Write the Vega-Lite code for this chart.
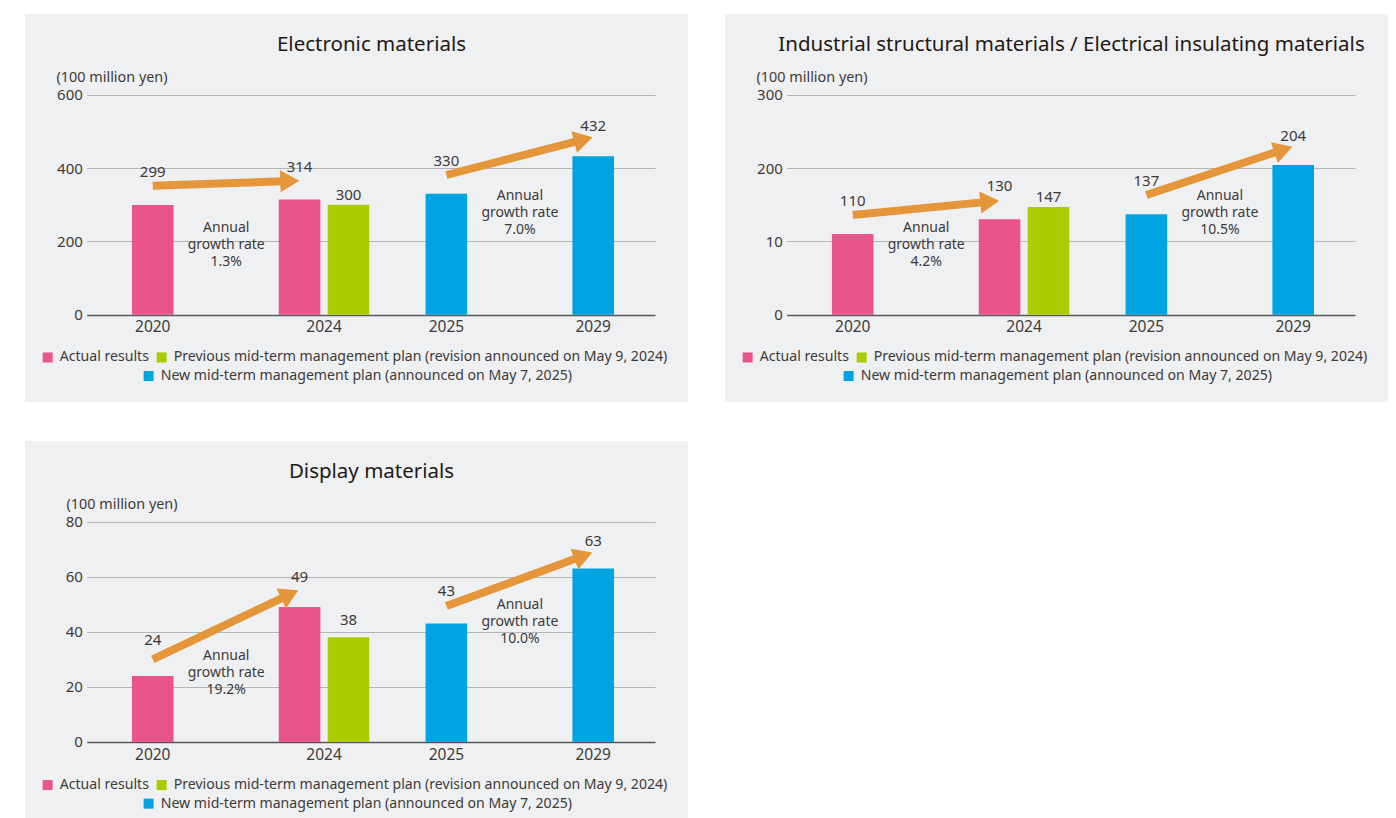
{
  "$schema": "https://vega.github.io/schema/vega-lite/v6.json",
  "background": "white",
  "padding": {"left": 25, "top": 14, "right": 0, "bottom": 0},
  "bounds": "flush",
  "columns": 2,
  "spacing": {"row": 39, "column": 37},
  "datasets": {
    "bars": [
      {"panel": "elec", "year": "2020", "bar": "2020", "series": "Actual results", "value": 299},
      {"panel": "elec", "year": "2024", "bar": "2024 actual", "series": "Actual results", "value": 314},
      {"panel": "elec", "year": "2024", "bar": "2024 previous", "series": "Previous mid-term management plan (revision announced on May 9, 2024)", "value": 300},
      {"panel": "elec", "year": "2025", "bar": "2025", "series": "New mid-term management plan (announced on May 7, 2025)", "value": 330},
      {"panel": "elec", "year": "2029", "bar": "2029", "series": "New mid-term management plan (announced on May 7, 2025)", "value": 432},
      {"panel": "ind", "year": "2020", "bar": "2020", "series": "Actual results", "value": 110},
      {"panel": "ind", "year": "2024", "bar": "2024 actual", "series": "Actual results", "value": 130},
      {"panel": "ind", "year": "2024", "bar": "2024 previous", "series": "Previous mid-term management plan (revision announced on May 9, 2024)", "value": 147},
      {"panel": "ind", "year": "2025", "bar": "2025", "series": "New mid-term management plan (announced on May 7, 2025)", "value": 137},
      {"panel": "ind", "year": "2029", "bar": "2029", "series": "New mid-term management plan (announced on May 7, 2025)", "value": 204},
      {"panel": "disp", "year": "2020", "bar": "2020", "series": "Actual results", "value": 24},
      {"panel": "disp", "year": "2024", "bar": "2024 actual", "series": "Actual results", "value": 49},
      {"panel": "disp", "year": "2024", "bar": "2024 previous", "series": "Previous mid-term management plan (revision announced on May 9, 2024)", "value": 38},
      {"panel": "disp", "year": "2025", "bar": "2025", "series": "New mid-term management plan (announced on May 7, 2025)", "value": 43},
      {"panel": "disp", "year": "2029", "bar": "2029", "series": "New mid-term management plan (announced on May 7, 2025)", "value": 63}
    ],
    "notes": [
      {"panel": "elec", "from": "2020", "to": "2024 actual", "start": 351.8, "end": 364.6, "labelAt": 190, "label": ["Annual", "growth rate", "1.3%"]},
      {"panel": "elec", "from": "2025", "to": "2029", "start": 381, "end": 477.5, "labelAt": 277.4, "label": ["Annual", "growth rate", "7.0%"]},
      {"panel": "ind", "from": "2020", "to": "2024 actual", "start": 136.0, "end": 154.2, "labelAt": 95, "label": ["Annual", "growth rate", "4.2%"]},
      {"panel": "ind", "from": "2025", "to": "2029", "start": 163.2, "end": 225.1, "labelAt": 138.7, "label": ["Annual", "growth rate", "10.5%"]},
      {"panel": "disp", "from": "2020", "to": "2024 actual", "start": 30.0, "end": 53.6, "labelAt": 25.1, "label": ["Annual", "growth rate", "19.2%"]},
      {"panel": "disp", "from": "2025", "to": "2029", "start": 49.4, "end": 67.6, "labelAt": 43.6, "label": ["Annual", "growth rate", "10.0%"]}
    ]
  },
  "resolve": {
    "scale": {"color": "independent", "fill": "independent", "x": "independent", "y": "independent"},
    "legend": {"color": "independent", "fill": "independent"}
  },
  "concat": [
    {
      "width": 663, "height": 388,
      "title": {"text": "Electronic materials", "anchor": "middle", "frame": "group", "dx": 15, "dy": 51, "baseline": "middle", "offset": 0, "fontSize": 20.5, "fontWeight": "normal", "color": "#231815"},
      "layer": [
        {
          "data": {"name": "bars"},
          "transform": [{"filter": "datum.panel == 'elec' && indexof(datum.series, 'New') != 0"}],
          "mark": {"type": "bar", "width": {"band": 0.85}},
          "encoding": {
            "x": {"field": "bar", "type": "nominal",
              "scale": {"domain": ["2020", "g1", "g2", "2024 actual", "2024 previous", "g3", "2025", "g4", "g5", "2029"], "range": [61.7, 630], "paddingInner": 0, "paddingOuter": 0.806, "align": 0.527},
              "axis": {"title": null, "orient": "bottom", "offset": -87.3, "labelExpr": "datum.value == '2024 actual' ? '2024' : (datum.value == '2020' || datum.value == '2025' || datum.value == '2029' ? datum.value : '')", "labelOffset": {"condition": {"test": "datum.value == '2024 actual'", "value": 24.5}, "value": 0}, "labelOverlap": false, "labelPadding": 5, "labelFontSize": 15.5, "labelColor": "#3e3a39", "labelAngle": 0, "grid": false, "domain": false, "ticks": false}},
            "y": {"field": "value", "type": "quantitative", "stack": null,
              "scale": {"domain": [-238.1, 820.1], "nice": false, "zero": false},
              "axis": {"orient": "left", "offset": -61.7, "values": [0, 200, 400, 600], "grid": true,
                "gridColor": {"condition": {"test": "datum.value === 0", "value": "#595757"}, "value": "#b5b5b6"},
                "gridWidth": {"condition": {"test": "datum.value === 0", "value": 1.6}, "value": 1},
                "labelPadding": 4.4, "labelFontSize": 15, "labelColor": "#3e3a39", "domain": false, "ticks": false,
                "title": "(100 million yen)", "titleAngle": 0, "titleAlign": "left", "titleBaseline": "middle", "titleX": -30.7, "titleY": 63, "titleFontSize": 14.4, "titleFontWeight": "normal", "titleColor": "#3e3a39"}},
            "color": {"field": "series", "type": "nominal",
              "scale": {"domain": ["Actual results", "Previous mid-term management plan (revision announced on May 9, 2024)"], "range": ["#e9548d", "#aacc00"]},
              "legend": {"orient": "none", "legendX": 15.6, "legendY": 336, "direction": "horizontal", "title": null, "symbolType": "square", "symbolSize": 100, "symbolStrokeWidth": 0, "labelFontSize": 14.1, "labelColor": "#3e3a39", "columnPadding": 5, "labelOffset": 5, "padding": 0, "labelLimit": 700}}
          }
        },
        {
          "data": {"name": "bars"},
          "transform": [{"filter": "datum.panel == 'elec' && indexof(datum.series, 'New') == 0"}],
          "mark": {"type": "bar", "width": {"band": 0.85}},
          "encoding": {
            "x": {"field": "bar", "type": "nominal"},
            "y": {"field": "value", "type": "quantitative", "stack": null},
            "fill": {"field": "series", "type": "nominal",
              "scale": {"domain": ["New mid-term management plan (announced on May 7, 2025)"], "range": ["#00a4e0"]},
              "legend": {"orient": "none", "legendX": 116.6, "legendY": 355, "direction": "horizontal", "title": null, "symbolType": "square", "symbolSize": 100, "symbolStrokeWidth": 0, "labelFontSize": 14.1, "labelColor": "#3e3a39", "labelOffset": 5, "padding": 0, "labelLimit": 700}}
          }
        },
        {
          "data": {"name": "notes"},
          "transform": [{"filter": "datum.panel == 'elec'"}],
          "mark": {"type": "rule", "color": "#e5963a", "strokeWidth": 8, "strokeCap": "butt"},
          "encoding": {
            "x": {"field": "from", "type": "nominal"},
            "x2": {"field": "to", "bandPosition": 0.3},
            "y": {"field": "start", "type": "quantitative"},
            "y2": {"field": "end"}
          }
        },
        {
          "data": {"name": "notes"},
          "transform": [{"filter": "datum.panel == 'elec' && datum.from == '2020'"}],
          "mark": {"type": "point", "shape": "M-0.864,-1L0.864,0L-0.864,1Z", "size": 484, "filled": true, "color": "#e5963a", "opacity": 1, "strokeWidth": 0, "angle": 358},
          "encoding": {
            "x": {"field": "to", "type": "nominal", "bandPosition": 0.3},
            "y": {"field": "end", "type": "quantitative"}
          }
        },
        {
          "data": {"name": "notes"},
          "transform": [{"filter": "datum.panel == 'elec' && datum.from == '2025'"}],
          "mark": {"type": "point", "shape": "M-0.864,-1L0.864,0L-0.864,1Z", "size": 484, "filled": true, "color": "#e5963a", "opacity": 1, "strokeWidth": 0, "angle": 345.5},
          "encoding": {
            "x": {"field": "to", "type": "nominal", "bandPosition": 0.3},
            "y": {"field": "end", "type": "quantitative"}
          }
        },
        {
          "data": {"name": "bars"},
          "transform": [{"filter": "datum.panel == 'elec' && indexof(datum.series, 'Previous') != 0 && datum.year != '2029'"}],
          "mark": {"type": "text", "dy": -33, "fontSize": 15, "color": "#3e3a39", "baseline": "middle"},
          "encoding": {
            "x": {"field": "bar", "type": "nominal"},
            "y": {"field": "value", "type": "quantitative"},
            "text": {"field": "value", "type": "quantitative"}
          }
        },
        {
          "data": {"name": "bars"},
          "transform": [{"filter": "datum.panel == 'elec' && datum.year == '2029'"}],
          "mark": {"type": "text", "dy": -29.9, "fontSize": 15, "color": "#3e3a39", "baseline": "middle"},
          "encoding": {
            "x": {"field": "bar", "type": "nominal"},
            "y": {"field": "value", "type": "quantitative"},
            "text": {"field": "value", "type": "quantitative"}
          }
        },
        {
          "data": {"name": "bars"},
          "transform": [{"filter": "datum.panel == 'elec' && indexof(datum.series, 'Previous') == 0"}],
          "mark": {"type": "text", "dy": -10, "fontSize": 15, "color": "#3e3a39", "baseline": "middle"},
          "encoding": {
            "x": {"field": "bar", "type": "nominal"},
            "y": {"field": "value", "type": "quantitative"},
            "text": {"field": "value", "type": "quantitative"}
          }
        },
        {
          "data": {"name": "notes"},
          "transform": [{"filter": "datum.panel == 'elec'"}],
          "mark": {"type": "text", "dx": 73.5, "dy": -16.7, "fontSize": 14, "lineHeight": 16.7, "color": "#3e3a39", "baseline": "middle", "align": "center"},
          "encoding": {
            "x": {"field": "from", "type": "nominal"},
            "y": {"field": "labelAt", "type": "quantitative"},
            "text": {"field": "label", "type": "nominal"}
          }
        }
      ]
    },
    {
      "width": 663, "height": 388,
      "title": {"text": "Industrial structural materials / Electrical insulating materials", "anchor": "middle", "frame": "group", "dx": 15, "dy": 51, "baseline": "middle", "offset": 0, "fontSize": 20.5, "fontWeight": "normal", "color": "#231815"},
      "layer": [
        {
          "data": {"name": "bars"},
          "transform": [{"filter": "datum.panel == 'ind' && indexof(datum.series, 'New') != 0"}],
          "mark": {"type": "bar", "width": {"band": 0.85}},
          "encoding": {
            "x": {"field": "bar", "type": "nominal",
              "scale": {"domain": ["2020", "g1", "g2", "2024 actual", "2024 previous", "g3", "2025", "g4", "g5", "2029"], "range": [61.7, 630], "paddingInner": 0, "paddingOuter": 0.806, "align": 0.527},
              "axis": {"title": null, "orient": "bottom", "offset": -87.3, "labelExpr": "datum.value == '2024 actual' ? '2024' : (datum.value == '2020' || datum.value == '2025' || datum.value == '2029' ? datum.value : '')", "labelOffset": {"condition": {"test": "datum.value == '2024 actual'", "value": 24.5}, "value": 0}, "labelOverlap": false, "labelPadding": 5, "labelFontSize": 15.5, "labelColor": "#3e3a39", "labelAngle": 0, "grid": false, "domain": false, "ticks": false}},
            "y": {"field": "value", "type": "quantitative", "stack": null,
              "scale": {"domain": [-119.0, 410.0], "nice": false, "zero": false},
              "axis": {"orient": "left", "offset": -61.7, "values": [0, 100, 200, 300], "labelExpr": "datum.value == 100 ? '10' : datum.label", "grid": true,
                "gridColor": {"condition": {"test": "datum.value === 0", "value": "#595757"}, "value": "#b5b5b6"},
                "gridWidth": {"condition": {"test": "datum.value === 0", "value": 1.6}, "value": 1},
                "labelPadding": 4.4, "labelFontSize": 15, "labelColor": "#3e3a39", "domain": false, "ticks": false,
                "title": "(100 million yen)", "titleAngle": 0, "titleAlign": "left", "titleBaseline": "middle", "titleX": -30.7, "titleY": 63, "titleFontSize": 14.4, "titleFontWeight": "normal", "titleColor": "#3e3a39"}},
            "color": {"field": "series", "type": "nominal",
              "scale": {"domain": ["Actual results", "Previous mid-term management plan (revision announced on May 9, 2024)"], "range": ["#e9548d", "#aacc00"]},
              "legend": {"orient": "none", "legendX": 15.6, "legendY": 336, "direction": "horizontal", "title": null, "symbolType": "square", "symbolSize": 100, "symbolStrokeWidth": 0, "labelFontSize": 14.1, "labelColor": "#3e3a39", "columnPadding": 5, "labelOffset": 5, "padding": 0, "labelLimit": 700}}
          }
        },
        {
          "data": {"name": "bars"},
          "transform": [{"filter": "datum.panel == 'ind' && indexof(datum.series, 'New') == 0"}],
          "mark": {"type": "bar", "width": {"band": 0.85}},
          "encoding": {
            "x": {"field": "bar", "type": "nominal"},
            "y": {"field": "value", "type": "quantitative", "stack": null},
            "fill": {"field": "series", "type": "nominal",
              "scale": {"domain": ["New mid-term management plan (announced on May 7, 2025)"], "range": ["#00a4e0"]},
              "legend": {"orient": "none", "legendX": 116.6, "legendY": 355, "direction": "horizontal", "title": null, "symbolType": "square", "symbolSize": 100, "symbolStrokeWidth": 0, "labelFontSize": 14.1, "labelColor": "#3e3a39", "labelOffset": 5, "padding": 0, "labelLimit": 700}}
          }
        },
        {
          "data": {"name": "notes"},
          "transform": [{"filter": "datum.panel == 'ind'"}],
          "mark": {"type": "rule", "color": "#e5963a", "strokeWidth": 8, "strokeCap": "butt"},
          "encoding": {
            "x": {"field": "from", "type": "nominal"},
            "x2": {"field": "to", "bandPosition": 0.3},
            "y": {"field": "start", "type": "quantitative"},
            "y2": {"field": "end"}
          }
        },
        {
          "data": {"name": "notes"},
          "transform": [{"filter": "datum.panel == 'ind' && datum.from == '2020'"}],
          "mark": {"type": "point", "shape": "M-0.864,-1L0.864,0L-0.864,1Z", "size": 484, "filled": true, "color": "#e5963a", "opacity": 1, "strokeWidth": 0, "angle": 354.4},
          "encoding": {
            "x": {"field": "to", "type": "nominal", "bandPosition": 0.3},
            "y": {"field": "end", "type": "quantitative"}
          }
        },
        {
          "data": {"name": "notes"},
          "transform": [{"filter": "datum.panel == 'ind' && datum.from == '2025'"}],
          "mark": {"type": "point", "shape": "M-0.864,-1L0.864,0L-0.864,1Z", "size": 484, "filled": true, "color": "#e5963a", "opacity": 1, "strokeWidth": 0, "angle": 341.7},
          "encoding": {
            "x": {"field": "to", "type": "nominal", "bandPosition": 0.3},
            "y": {"field": "end", "type": "quantitative"}
          }
        },
        {
          "data": {"name": "bars"},
          "transform": [{"filter": "datum.panel == 'ind' && indexof(datum.series, 'Previous') != 0 && datum.year != '2029'"}],
          "mark": {"type": "text", "dy": -33, "fontSize": 15, "color": "#3e3a39", "baseline": "middle"},
          "encoding": {
            "x": {"field": "bar", "type": "nominal"},
            "y": {"field": "value", "type": "quantitative"},
            "text": {"field": "value", "type": "quantitative"}
          }
        },
        {
          "data": {"name": "bars"},
          "transform": [{"filter": "datum.panel == 'ind' && datum.year == '2029'"}],
          "mark": {"type": "text", "dy": -29.5, "fontSize": 15, "color": "#3e3a39", "baseline": "middle"},
          "encoding": {
            "x": {"field": "bar", "type": "nominal"},
            "y": {"field": "value", "type": "quantitative"},
            "text": {"field": "value", "type": "quantitative"}
          }
        },
        {
          "data": {"name": "bars"},
          "transform": [{"filter": "datum.panel == 'ind' && indexof(datum.series, 'Previous') == 0"}],
          "mark": {"type": "text", "dy": -9.6, "fontSize": 15, "color": "#3e3a39", "baseline": "middle"},
          "encoding": {
            "x": {"field": "bar", "type": "nominal"},
            "y": {"field": "value", "type": "quantitative"},
            "text": {"field": "value", "type": "quantitative"}
          }
        },
        {
          "data": {"name": "notes"},
          "transform": [{"filter": "datum.panel == 'ind'"}],
          "mark": {"type": "text", "dx": 73.5, "dy": -16.7, "fontSize": 14, "lineHeight": 16.7, "color": "#3e3a39", "baseline": "middle", "align": "center"},
          "encoding": {
            "x": {"field": "from", "type": "nominal"},
            "y": {"field": "labelAt", "type": "quantitative"},
            "text": {"field": "label", "type": "nominal"}
          }
        }
      ]
    },
    {
      "width": 663, "height": 377,
      "title": {"text": "Display materials", "anchor": "middle", "frame": "group", "dx": 15, "dy": 51, "baseline": "middle", "offset": 0, "fontSize": 20.5, "fontWeight": "normal", "color": "#231815"},
      "layer": [
        {
          "data": {"name": "bars"},
          "transform": [{"filter": "datum.panel == 'disp' && indexof(datum.series, 'New') != 0"}],
          "mark": {"type": "bar", "width": {"band": 0.85}},
          "encoding": {
            "x": {"field": "bar", "type": "nominal",
              "scale": {"domain": ["2020", "g1", "g2", "2024 actual", "2024 previous", "g3", "2025", "g4", "g5", "2029"], "range": [61.7, 630], "paddingInner": 0, "paddingOuter": 0.806, "align": 0.527},
              "axis": {"title": null, "orient": "bottom", "offset": -76, "labelExpr": "datum.value == '2024 actual' ? '2024' : (datum.value == '2020' || datum.value == '2025' || datum.value == '2029' ? datum.value : '')", "labelOffset": {"condition": {"test": "datum.value == '2024 actual'", "value": 24.5}, "value": 0}, "labelOverlap": false, "labelPadding": 5, "labelFontSize": 15.5, "labelColor": "#3e3a39", "labelAngle": 0, "grid": false, "domain": false, "ticks": false}},
            "y": {"field": "value", "type": "quantitative", "stack": null,
              "scale": {"domain": [-27.6, 109.3], "nice": false, "zero": false},
              "axis": {"orient": "left", "offset": -61.7, "values": [0, 20, 40, 60, 80], "grid": true,
                "gridColor": {"condition": {"test": "datum.value === 0", "value": "#595757"}, "value": "#b5b5b6"},
                "gridWidth": {"condition": {"test": "datum.value === 0", "value": 1.6}, "value": 1},
                "labelPadding": 4.4, "labelFontSize": 15, "labelColor": "#3e3a39", "domain": false, "ticks": false,
                "title": "(100 million yen)", "titleAngle": 0, "titleAlign": "left", "titleBaseline": "middle", "titleX": -20.7, "titleY": 63.3, "titleFontSize": 14.4, "titleFontWeight": "normal", "titleColor": "#3e3a39"}},
            "color": {"field": "series", "type": "nominal",
              "scale": {"domain": ["Actual results", "Previous mid-term management plan (revision announced on May 9, 2024)"], "range": ["#e9548d", "#aacc00"]},
              "legend": {"orient": "none", "legendX": 15.6, "legendY": 336.6, "direction": "horizontal", "title": null, "symbolType": "square", "symbolSize": 100, "symbolStrokeWidth": 0, "labelFontSize": 14.1, "labelColor": "#3e3a39", "columnPadding": 5, "labelOffset": 5, "padding": 0, "labelLimit": 700}}
          }
        },
        {
          "data": {"name": "bars"},
          "transform": [{"filter": "datum.panel == 'disp' && indexof(datum.series, 'New') == 0"}],
          "mark": {"type": "bar", "width": {"band": 0.85}},
          "encoding": {
            "x": {"field": "bar", "type": "nominal"},
            "y": {"field": "value", "type": "quantitative", "stack": null},
            "fill": {"field": "series", "type": "nominal",
              "scale": {"domain": ["New mid-term management plan (announced on May 7, 2025)"], "range": ["#00a4e0"]},
              "legend": {"orient": "none", "legendX": 116.6, "legendY": 355.6, "direction": "horizontal", "title": null, "symbolType": "square", "symbolSize": 100, "symbolStrokeWidth": 0, "labelFontSize": 14.1, "labelColor": "#3e3a39", "labelOffset": 5, "padding": 0, "labelLimit": 700}}
          }
        },
        {
          "data": {"name": "notes"},
          "transform": [{"filter": "datum.panel == 'disp'"}],
          "mark": {"type": "rule", "color": "#e5963a", "strokeWidth": 8, "strokeCap": "butt"},
          "encoding": {
            "x": {"field": "from", "type": "nominal"},
            "x2": {"field": "to", "bandPosition": 0.3},
            "y": {"field": "start", "type": "quantitative"},
            "y2": {"field": "end"}
          }
        },
        {
          "data": {"name": "notes"},
          "transform": [{"filter": "datum.panel == 'disp' && datum.from == '2020'"}],
          "mark": {"type": "point", "shape": "M-0.864,-1L0.864,0L-0.864,1Z", "size": 484, "filled": true, "color": "#e5963a", "opacity": 1, "strokeWidth": 0, "angle": 334.6},
          "encoding": {
            "x": {"field": "to", "type": "nominal", "bandPosition": 0.3},
            "y": {"field": "end", "type": "quantitative"}
          }
        },
        {
          "data": {"name": "notes"},
          "transform": [{"filter": "datum.panel == 'disp' && datum.from == '2025'"}],
          "mark": {"type": "point", "shape": "M-0.864,-1L0.864,0L-0.864,1Z", "size": 484, "filled": true, "color": "#e5963a", "opacity": 1, "strokeWidth": 0, "angle": 339.9},
          "encoding": {
            "x": {"field": "to", "type": "nominal", "bandPosition": 0.3},
            "y": {"field": "end", "type": "quantitative"}
          }
        },
        {
          "data": {"name": "bars"},
          "transform": [{"filter": "datum.panel == 'disp' && datum.bar == '2020'"}],
          "mark": {"type": "text", "dy": -36.3, "fontSize": 15, "color": "#3e3a39", "baseline": "middle"},
          "encoding": {
            "x": {"field": "bar", "type": "nominal"},
            "y": {"field": "value", "type": "quantitative"},
            "text": {"field": "value", "type": "quantitative"}
          }
        },
        {
          "data": {"name": "bars"},
          "transform": [{"filter": "datum.panel == 'disp' && datum.bar == '2024 actual'"}],
          "mark": {"type": "text", "dy": -30.2, "fontSize": 15, "color": "#3e3a39", "baseline": "middle"},
          "encoding": {
            "x": {"field": "bar", "type": "nominal"},
            "y": {"field": "value", "type": "quantitative"},
            "text": {"field": "value", "type": "quantitative"}
          }
        },
        {
          "data": {"name": "bars"},
          "transform": [{"filter": "datum.panel == 'disp' && datum.bar == '2025'"}],
          "mark": {"type": "text", "dy": -32.3, "fontSize": 15, "color": "#3e3a39", "baseline": "middle"},
          "encoding": {
            "x": {"field": "bar", "type": "nominal"},
            "y": {"field": "value", "type": "quantitative"},
            "text": {"field": "value", "type": "quantitative"}
          }
        },
        {
          "data": {"name": "bars"},
          "transform": [{"filter": "datum.panel == 'disp' && datum.bar == '2029'"}],
          "mark": {"type": "text", "dy": -27.1, "fontSize": 15, "color": "#3e3a39", "baseline": "middle"},
          "encoding": {
            "x": {"field": "bar", "type": "nominal"},
            "y": {"field": "value", "type": "quantitative"},
            "text": {"field": "value", "type": "quantitative"}
          }
        },
        {
          "data": {"name": "bars"},
          "transform": [{"filter": "datum.panel == 'disp' && datum.bar == '2024 previous'"}],
          "mark": {"type": "text", "dy": -16.9, "fontSize": 15, "color": "#3e3a39", "baseline": "middle"},
          "encoding": {
            "x": {"field": "bar", "type": "nominal"},
            "y": {"field": "value", "type": "quantitative"},
            "text": {"field": "value", "type": "quantitative"}
          }
        },
        {
          "data": {"name": "notes"},
          "transform": [{"filter": "datum.panel == 'disp'"}],
          "mark": {"type": "text", "dx": 73.5, "dy": -16.7, "fontSize": 14, "lineHeight": 16.7, "color": "#3e3a39", "baseline": "middle", "align": "center"},
          "encoding": {
            "x": {"field": "from", "type": "nominal"},
            "y": {"field": "labelAt", "type": "quantitative"},
            "text": {"field": "label", "type": "nominal"}
          }
        }
      ]
    }
  ],
  "config": {
    "font": "Noto Sans",
    "view": {"fill": "#eff0f2", "stroke": null},
    "axis": {"domain": false, "ticks": false, "tickSize": 0}
  }
}
